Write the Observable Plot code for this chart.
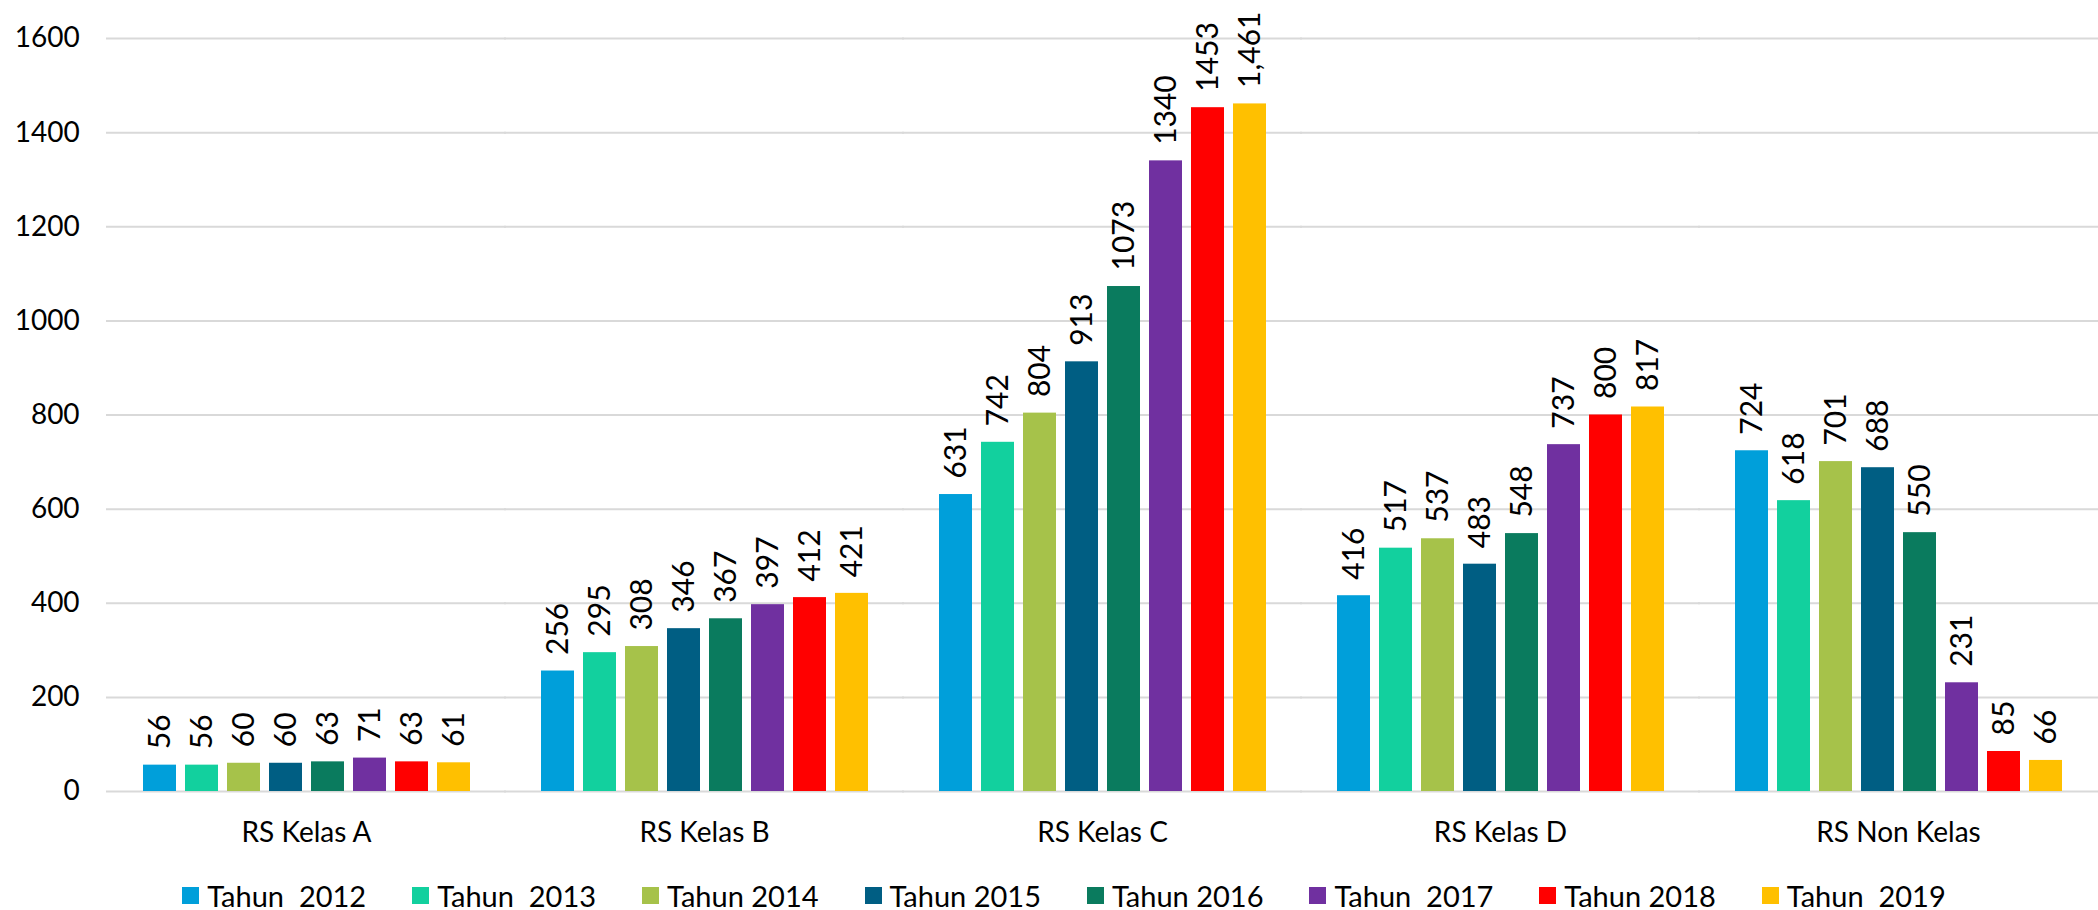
<!DOCTYPE html>
<html>
<head>
<meta charset="utf-8">
<script src="https://cdn.jsdelivr.net/npm/d3@7"></script>
<script src="https://cdn.jsdelivr.net/npm/@observablehq/plot@0.6"></script>
<style>
  html, body { margin: 0; padding: 0; background: #fff; overflow: hidden; }
  body { width: 2098px; height: 910px; font-family: Lato, "Open Sans", sans-serif; }
  #legend { display: flex; justify-content: center; align-items: center; height: 30px; padding-left: 30px; gap: 46px; font-size: 29px; color: #000; }
  .item { display: flex; align-items: center; white-space: pre; }
  .sw { width: 17px; height: 17px; margin-right: 8px; display: inline-block; }
</style>
</head>
<body>
<div id="chart"></div>
<div id="legend"></div>
<script>
const categories = ["RS Kelas A", "RS Kelas B", "RS Kelas C", "RS Kelas D", "RS Non Kelas"];
const years = ["2012", "2013", "2014", "2015", "2016", "2017", "2018", "2019"];
const legendLabels = ["Tahun  2012", "Tahun  2013", "Tahun 2014", "Tahun 2015", "Tahun 2016", "Tahun  2017", "Tahun 2018", "Tahun  2019"];
const tahun2012 = [56, 256, 631, 416, 724];
const tahun2013 = [56, 295, 742, 517, 618];
const tahun2014 = [60, 308, 804, 537, 701];
const tahun2015 = [60, 346, 913, 483, 688];
const tahun2016 = [63, 367, 1073, 548, 550];
const tahun2017 = [71, 397, 1340, 737, 231];
const tahun2018 = [63, 412, 1453, 800, 85];
const tahun2019 = [61, 421, 1461, 817, 66];
const colors = ["#009FDA", "#12D09E", "#A6C24A", "#005E83", "#0A7B5E", "#7030A0", "#FF0000", "#FFC000"];
const yTicks = [0, 200, 400, 600, 800, 1000, 1200, 1400, 1600];

const series = [tahun2012, tahun2013, tahun2014, tahun2015, tahun2016, tahun2017, tahun2018, tahun2019];
const fmtComma = d3.format(",");
const data = [];
series.forEach((vals, i) => {
  vals.forEach((v, j) => {
    data.push({cat: categories[j], year: years[i], value: v,
      label: years[i] === "2019" ? fmtComma(v) : String(v)});
  });
});

const W = 2098, ML = 107, MR = 0;
const fxInner = 0.14, fxOuter = 0.07;
const step = (W - ML - MR) / (categories.length - fxInner + 2 * fxOuter);
const outerGap = step * fxOuter;      // space before first facet
const innerGap = step * fxInner;      // space between facets

const chart = Plot.plot({
  width: W,
  height: 880,
  marginLeft: ML,
  marginRight: MR,
  marginTop: 38,
  marginBottom: 89,
  style: {fontFamily: "Lato, 'Open Sans', sans-serif", fontSize: "28px", color: "#000", background: "#fff", overflow: "visible"},
  fx: {domain: categories, paddingInner: fxInner, paddingOuter: fxOuter, label: null, axis: "bottom", tickSize: 0, tickPadding: 31},
  x: {domain: years, paddingInner: 0.22, paddingOuter: 0.11, axis: null},
  y: {domain: [0, 1600], axis: null},
  color: {domain: years, range: colors},
  marks: [
    Plot.ruleY(yTicks, {stroke: "#d9d9d9", strokeWidth: 2, insetLeft: -Math.ceil(innerGap / 2 + 1), insetRight: -Math.ceil(innerGap / 2 + 1)}),
    Plot.text(yTicks, {fx: () => categories[0], y: d => d, text: d => String(d), frameAnchor: "left", textAnchor: "end", dx: -(28 + outerGap), fontSize: 28, fill: "#000"}),
    Plot.barY(data, {fx: "cat", x: "year", y: "value", fill: "year"}),
    Plot.text(data, {fx: "cat", x: "year", y: "value", text: "label", rotate: -90, textAnchor: "start", dy: -16, fontSize: 30, fill: "#000"})
  ]
});
document.getElementById("chart").appendChild(chart);

const legend = document.getElementById("legend");
legendLabels.forEach((lab, i) => {
  const item = document.createElement("div");
  item.className = "item";
  const sw = document.createElement("span");
  sw.className = "sw";
  sw.style.background = colors[i];
  item.appendChild(sw);
  const t = document.createElement("span");
  t.textContent = lab;
  item.appendChild(t);
  legend.appendChild(item);
});
</script>
</body>
</html>
